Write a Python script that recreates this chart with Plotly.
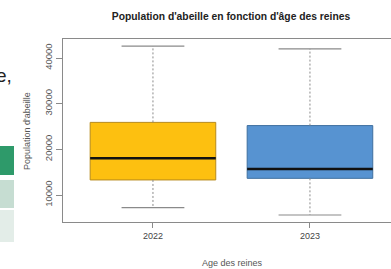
import plotly.graph_objects as go

# ---- data ----
years = ["2022", "2023"]
q1 = [13300, 13650]
median = [18050, 15700]
q3 = [25900, 25200]
lower_whisker = [7250, 5620]
upper_whisker = [42600, 42000]
fill_colors = ["#FDC010", "#5793D1"]
border_colors = ["#B78A1C", "#3F6F9F"]
y_ticks = [10000, 20000, 30000, 40000]
y_tick_labels = ["10000", "20000", "30000", "40000"]

W, H = 391, 269
ML, MR, MT, MB = 63, 0, 39, 47
PW, PH = W - ML - MR, H - MT - MB


def px_x(p):
    return (p - ML) / PW


def px_y(p):
    return (H - MB - p) / PH


positions = [i + 1 for i in range(len(years))]
box_w = 0.8
cap_half = 0.2
grey = "#8a8a8a"

fig = go.Figure()
for i, pos in enumerate(positions):
    fig.add_trace(go.Box(
        x=[pos], q1=[q1[i]], median=[median[i]], q3=[q3[i]],
        lowerfence=[q1[i]], upperfence=[q3[i]],
        width=box_w, whiskerwidth=0, boxpoints=False,
        fillcolor=fill_colors[i], line=dict(color=border_colors[i], width=1),
        hoverinfo="skip", showlegend=False,
    ))
    # median
    fig.add_trace(go.Scatter(
        x=[pos - box_w / 2, pos + box_w / 2], y=[median[i], median[i]],
        mode="lines", line=dict(color="#111111", width=2.6),
        hoverinfo="skip", showlegend=False,
    ))
    # whiskers (dashed)
    fig.add_trace(go.Scatter(
        x=[pos, pos, None, pos, pos],
        y=[q3[i], upper_whisker[i], None, q1[i], lower_whisker[i]],
        mode="lines", line=dict(color=grey, width=1, dash="2px,2px"),
        hoverinfo="skip", showlegend=False,
    ))
    # caps
    fig.add_trace(go.Scatter(
        x=[pos - cap_half, pos + cap_half, None, pos - cap_half, pos + cap_half],
        y=[upper_whisker[i], upper_whisker[i], None, lower_whisker[i], lower_whisker[i]],
        mode="lines", line=dict(color=grey, width=1.2),
        hoverinfo="skip", showlegend=False,
    ))

font = "Liberation Sans, Arial, sans-serif"

fig.update_layout(
    width=W, height=H,
    margin=dict(l=ML, r=MR, t=MT, b=MB, pad=0),
    paper_bgcolor="white", plot_bgcolor="white",
    font=dict(family=font, size=9, color="#555555"),
    title=dict(
        text="<b>Population d'abeille en fonction d'âge des reines</b>",
        x=231 / W, xanchor="center", y=1 - 16 / H, yanchor="middle",
        font=dict(family=font, size=10.3, color="#222222"),
    ),
    xaxis=dict(
        range=[0.427, 0.427 + PW / 157.0],
        tickvals=positions, ticktext=years,
        ticks="outside", ticklen=5, tickcolor=grey, tickwidth=1,
        showline=True, mirror=True, linecolor=grey, linewidth=1.3,
        showgrid=False, zeroline=False,
        tickfont=dict(size=9, color="#444444"),
    ),
    yaxis=dict(
        range=[4090, 44160],
        tickvals=y_ticks, ticktext=y_tick_labels, tickangle=-90,
        ticks="outside", ticklen=6, tickcolor=grey, tickwidth=1,
        showline=True, mirror=False, linecolor=grey, linewidth=1.3,
        showgrid=False, zeroline=False,
        tickfont=dict(size=9.5, color="#555555"),
    ),
    annotations=[
        dict(text="Age des reines", xref="paper", yref="paper",
             x=px_x(232), y=px_y(263), xanchor="center", yanchor="middle",
             showarrow=False, font=dict(size=9, color="#555555")),
        dict(text="Population d'abeille", xref="paper", yref="paper",
             x=px_x(27), y=px_y(131), xanchor="center", yanchor="middle",
             textangle=-90, showarrow=False, font=dict(size=9, color="#555555")),
        dict(text="e,", xref="paper", yref="paper",
             x=px_x(14), y=px_y(75), xanchor="right", yanchor="middle",
             showarrow=False, font=dict(size=19, color="#222222")),
    ],
    shapes=[
        dict(type="rect", xref="paper", yref="paper", layer="above",
             x0=px_x(-2), x1=px_x(14), y0=px_y(146), y1=px_y(175),
             fillcolor="#2E9A6A", line=dict(width=0)),
        dict(type="rect", xref="paper", yref="paper", layer="above",
             x0=px_x(-2), x1=px_x(14), y0=px_y(180), y1=px_y(208),
             fillcolor="#C6DDD2", line=dict(width=0)),
        dict(type="rect", xref="paper", yref="paper", layer="above",
             x0=px_x(-2), x1=px_x(14), y0=px_y(210), y1=px_y(242),
             fillcolor="#E3EDE8", line=dict(width=0)),
    ],
)

fig.write_html(
    "out.html",
    config={"displayModeBar": False},
    post_script="document.body.style.margin='0';document.body.style.overflow='hidden';",
)
